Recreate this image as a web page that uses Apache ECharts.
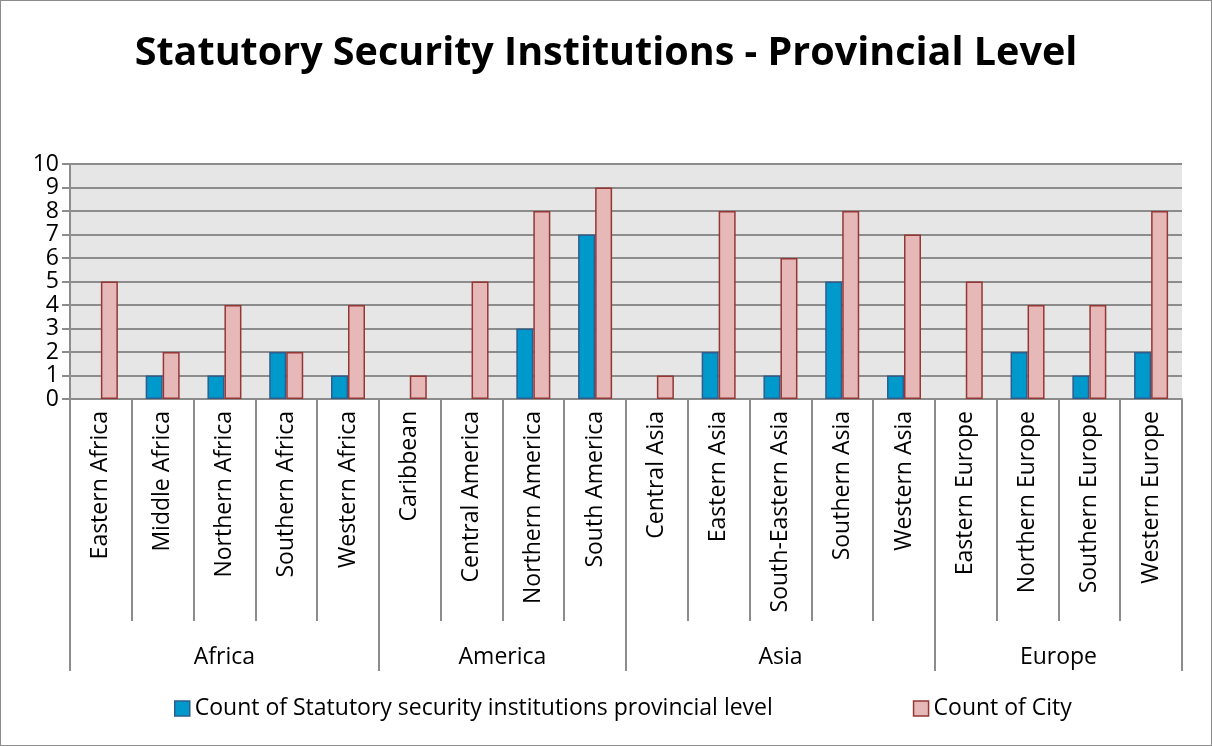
<!DOCTYPE html>
<html>
<head>
<meta charset="utf-8">
<script src="https://cdn.jsdelivr.net/npm/echarts@6/dist/echarts.min.js"></script>
<style>
  html, body { margin: 0; padding: 0; background: #fff; }
  #main { width: 1212px; height: 746px; box-sizing: border-box; border: 1px solid #8c8c8c; }
</style>
</head>
<body>
<div id="main"></div>
<script>
// data
const categories = ['Eastern Africa', 'Middle Africa', 'Northern Africa', 'Southern Africa', 'Western Africa',
  'Caribbean', 'Central America', 'Northern America', 'South America',
  'Central Asia', 'Eastern Asia', 'South-Eastern Asia', 'Southern Asia', 'Western Asia',
  'Eastern Europe', 'Northern Europe', 'Southern Europe', 'Western Europe'];
const groups = ['Africa', 'America', 'Asia', 'Europe'];
const groupSizes = [5, 4, 5, 4];
const institutions = [0, 1, 1, 2, 1, 0, 0, 3, 7, 0, 2, 1, 5, 1, 0, 2, 1, 2];
const cities = [5, 2, 4, 2, 4, 1, 5, 8, 9, 1, 8, 6, 8, 7, 5, 4, 4, 8];

// group boundaries and centres on a 0..18 value scale
const groupEdges = [0];
groupSizes.forEach(n => groupEdges.push(groupEdges[groupEdges.length - 1] + n));
const groupMids = groups.map((g, i) => (groupEdges[i] + groupEdges[i + 1]) / 2);

// zero bars: no outline, like the original
const noZero = arr => arr.map(v => v === 0 ? { value: 0, itemStyle: { borderWidth: 0 } } : v);

const font = 'Open Sans';
const gridGray = '#8c8c8c';
const fs = 23;

const chart = echarts.init(document.getElementById('main'));
const option = {
  animation: false,
  textStyle: { fontFamily: font },
  title: {
    text: 'Statutory Security Institutions - Provincial Level',
    left: 'center',
    top: 28,
    textStyle: { fontSize: 39.5, fontWeight: 'bold', color: '#000', fontFamily: font }
  },
  grid: {
    left: 69, right: 29, top: 163, bottom: 346,
    show: true, backgroundColor: '#e6e6e6', borderWidth: 0
  },
  legend: {
    bottom: 20,
    left: 168,
    itemWidth: 15, itemHeight: 15, itemGap: 140, itemStyle: { borderWidth: 1.5 },
    icon: 'rect',
    textStyle: { fontSize: fs, color: '#000', fontFamily: font }
  },
  xAxis: [
    {
      type: 'category',
      data: categories,
      position: 'bottom',
      axisLine: { lineStyle: { color: gridGray, width: 2 } },
      axisTick: { show: true, interval: 0, length: 222, lineStyle: { color: gridGray, width: 2 } },
      axisLabel: { interval: 0, rotate: 90, fontSize: fs, color: '#000', margin: 12 },
      splitLine: { show: false }
    },
    {
      type: 'value',
      min: 0, max: groupEdges[groupEdges.length - 1],
      position: 'bottom',
      axisLine: { show: false },
      splitLine: { show: false },
      axisTick: { show: true, customValues: groupEdges, length: 272, lineStyle: { color: gridGray, width: 2 } },
      axisLabel: {
        customValues: groupMids,
        fontSize: fs, color: '#000', margin: 247,
        formatter: v => groups[groupMids.indexOf(v)] || ''
      }
    }
  ],
  yAxis: {
    type: 'value',
    min: 0, max: 10, interval: 1,
    axisLine: { show: true, lineStyle: { color: gridGray, width: 2 } },
    axisTick: { show: true, length: 8, lineStyle: { color: gridGray, width: 2 } },
    axisLabel: { fontSize: fs, color: '#000', margin: 11 },
    splitLine: { lineStyle: { color: gridGray, width: 2 } }
  },
  series: [
    {
      name: 'Count of Statutory security institutions provincial level',
      type: 'bar',
      data: noZero(institutions),
      barWidth: 17,
      barGap: '0%',
      itemStyle: { color: '#0099cc', borderColor: '#2e5d8e', borderWidth: 1.5 }
    },
    {
      name: 'Count of City',
      type: 'bar',
      data: noZero(cities),
      barWidth: 17,
      barGap: '0%',
      itemStyle: { color: '#e6b9b8', borderColor: '#953735', borderWidth: 1.5 }
    }
  ]
};
option && chart.setOption(option);
</script>
</body>
</html>
